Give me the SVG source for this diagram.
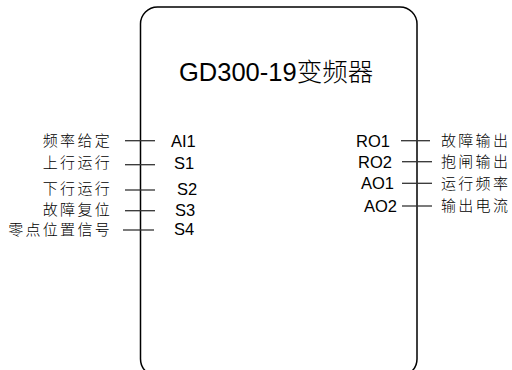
<svg xmlns="http://www.w3.org/2000/svg" width="512" height="370" viewBox="0 0 512 370">
<style>
.box{fill:#fff;stroke:#000;stroke-width:1.5}
.tick{stroke:#333;stroke-width:1.3}
.pin{font-family:"Liberation Sans",Arial,sans-serif;font-size:16.5px;fill:#000}
.cn{font-family:"Noto Sans CJK SC",sans-serif;font-size:15px;font-weight:300;letter-spacing:2.3px;fill:#000}
.title{font-family:"Liberation Sans",Arial,"Noto Sans CJK SC",sans-serif;font-size:25.5px;fill:#000}
</style>
<rect width="512" height="370" fill="#fff"/>
<g id="inverter">
<rect class="box" x="140.5" y="7" width="276.5" height="369" rx="17" ry="17"/>
<text class="title" x="179" y="81">GD300-19<tspan font-family="Noto Sans CJK SC,sans-serif" font-weight="300">变频器</tspan></text>
</g>
<g id="connectors">
<line class="tick" x1="125" y1="140.7" x2="155" y2="140.7"/>
<line class="tick" x1="125" y1="164.7" x2="155" y2="164.7"/>
<line class="tick" x1="125" y1="190" x2="155" y2="190"/>
<line class="tick" x1="125" y1="210.7" x2="155" y2="210.7"/>
<line class="tick" x1="123" y1="230" x2="154" y2="230"/>
<line class="tick" x1="401" y1="140.7" x2="430" y2="140.7"/>
<line class="tick" x1="402" y1="161.7" x2="432" y2="161.7"/>
<line class="tick" x1="402" y1="183.3" x2="432" y2="183.3"/>
<line class="tick" x1="402" y1="206" x2="432" y2="206"/>
</g>
<g id="pins-left">
<text class="pin" x="171" y="146.5">AI1</text>
<text class="pin" x="174" y="169">S1</text>
<text class="pin" x="177" y="195">S2</text>
<text class="pin" x="175" y="215.5">S3</text>
<text class="pin" x="174" y="235">S4</text>
</g>
<g id="labels-left" text-anchor="end">
<text class="cn" x="112" y="146">频率给定</text>
<text class="cn" x="112" y="168">上行运行</text>
<text class="cn" x="112" y="194">下行运行</text>
<text class="cn" x="112" y="214.5">故障复位</text>
<text class="cn" x="112" y="234.5">零点位置信号</text>
</g>
<g id="pins-right" text-anchor="end">
<text class="pin" x="390" y="146.5">RO1</text>
<text class="pin" x="392" y="167.5">RO2</text>
<text class="pin" x="394" y="189">AO1</text>
<text class="pin" x="397" y="211.5">AO2</text>
</g>
<g id="labels-right">
<text class="cn" x="441" y="146">故障输出</text>
<text class="cn" x="441" y="167">抱闸输出</text>
<text class="cn" x="441" y="189">运行频率</text>
<text class="cn" x="441" y="211">输出电流</text>
</g>
</svg>
